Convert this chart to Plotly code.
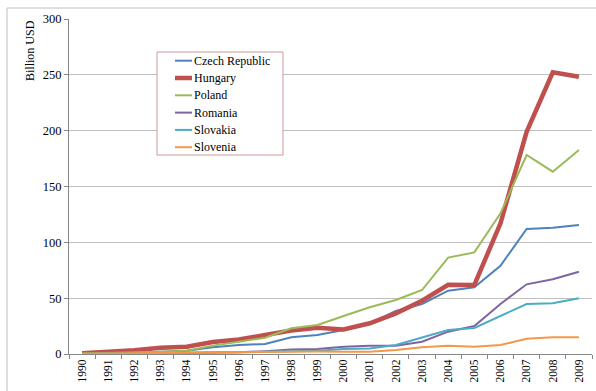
import plotly.graph_objects as go

years = [str(y) for y in range(1990, 2010)]

czech = [0.3, 0.5, 1.0, 2.0, 3.0, 6.0, 8.0, 9.0, 15.0, 17.0, 21.5, 27.5, 38.5, 44.8, 56.7, 59.7, 79.0, 112.0, 113.0, 115.5]
hungary = [0.7, 1.5, 3.3, 5.7, 6.5, 10.7, 13.0, 17.0, 21.0, 23.6, 22.0, 27.5, 36.4, 47.7, 62.0, 61.8, 117.0, 199.0, 252.3, 248.3]
poland = [0.5, 0.8, 1.5, 2.0, 3.0, 7.5, 11.0, 14.6, 23.0, 26.0, 34.0, 41.8, 48.4, 57.3, 86.3, 91.0, 126.0, 178.2, 163.3, 182.7]
romania = [0.0, 0.3, 0.6, 0.8, 1.0, 1.2, 1.5, 2.5, 4.0, 4.5, 6.5, 7.5, 7.5, 11.0, 20.0, 25.0, 44.8, 62.4, 67.0, 73.7]
slovakia = [0.0, 0.2, 0.4, 0.6, 0.8, 1.0, 1.5, 2.0, 2.5, 3.0, 4.5, 5.0, 8.0, 14.6, 21.5, 23.3, 34.0, 44.8, 45.4, 49.9]
slovenia = [0.3, 0.5, 1.0, 1.5, 1.5, 1.8, 2.0, 2.0, 2.5, 2.2, 2.0, 2.0, 3.6, 6.0, 7.5, 6.5, 8.0, 13.7, 15.0, 15.0]

series = [
    ("Czech Republic", czech, "#4F81BD", 2),
    ("Hungary", hungary, "#C0504D", 4.5),
    ("Poland", poland, "#9BBB59", 2),
    ("Romania", romania, "#8064A2", 2),
    ("Slovakia", slovakia, "#4BACC6", 2),
    ("Slovenia", slovenia, "#F79646", 2),
]

serif = "Liberation Serif"

# plot area in pixels (used to place the hand-drawn legend box)
W, H = 596, 391
ML, MR, MT, MB = 69, 4, 19, 37
PW, PH = W - ML - MR, H - MT - MB


def px_x(x):
    return (x - ML) / PW


def px_y(y):
    return (H - MB - y) / PH


fig = go.Figure()
for name, vals, color, width in series:
    fig.add_trace(go.Scatter(
        x=years, y=vals, name=name, mode="lines",
        line=dict(color=color, width=width),
    ))

shapes = [
    # chart-area frame
    dict(type="rect", xref="paper", yref="paper",
         x0=px_x(7), x1=1.2, y0=-0.2, y1=px_y(8),
         line=dict(color="#BFBFBF", width=1), layer="below"),
    # legend box
    dict(type="rect", xref="paper", yref="paper",
         x0=px_x(157), x1=px_x(283), y0=px_y(155), y1=px_y(52),
         line=dict(color="#C99A99", width=1), fillcolor="white", layer="above"),
]
annotations = [dict(
    text="Billion USD", xref="paper", yref="paper",
    x=px_x(30), y=px_y(51), xanchor="center", yanchor="middle",
    textangle=-90, showarrow=False,
    font=dict(family=serif, size=12, color="black"),
)]

row_y = 60.7
for name, vals, color, width in series:
    shapes.append(dict(
        type="line", xref="paper", yref="paper",
        x0=px_x(175), x1=px_x(192), y0=px_y(row_y), y1=px_y(row_y),
        line=dict(color=color, width=width), layer="above",
    ))
    annotations.append(dict(
        text=name, xref="paper", yref="paper",
        x=px_x(192), y=px_y(row_y), xanchor="left", yanchor="middle",
        showarrow=False, font=dict(family=serif, size=12, color="black"),
    ))
    row_y += 17.3

fig.update_layout(
    template="none",
    width=W, height=H,
    margin=dict(l=ML, r=MR, t=MT, b=MB),
    paper_bgcolor="white", plot_bgcolor="white",
    font=dict(family=serif, size=12, color="black"),
    showlegend=False,
    xaxis=dict(
        type="category", tickangle=-90,
        showline=True, linecolor="#868686", linewidth=1,
        ticks="outside", ticklen=4, tickcolor="#868686",
        tickson="boundaries", showgrid=False,
        tickfont=dict(family=serif, size=11.5),
        range=[-0.5, 19.5],
    ),
    yaxis=dict(
        range=[0, 300], tickvals=[0, 50, 100, 150, 200, 250, 300],
        showline=True, linecolor="#868686", linewidth=1,
        ticks="outside", ticklen=4, tickcolor="#868686",
        showgrid=True, gridcolor="#BFBFBF", gridwidth=1,
        zeroline=False,
        tickfont=dict(family=serif, size=12.5),
    ),
    annotations=annotations,
    shapes=shapes,
)

fig.write_html("out.html")
